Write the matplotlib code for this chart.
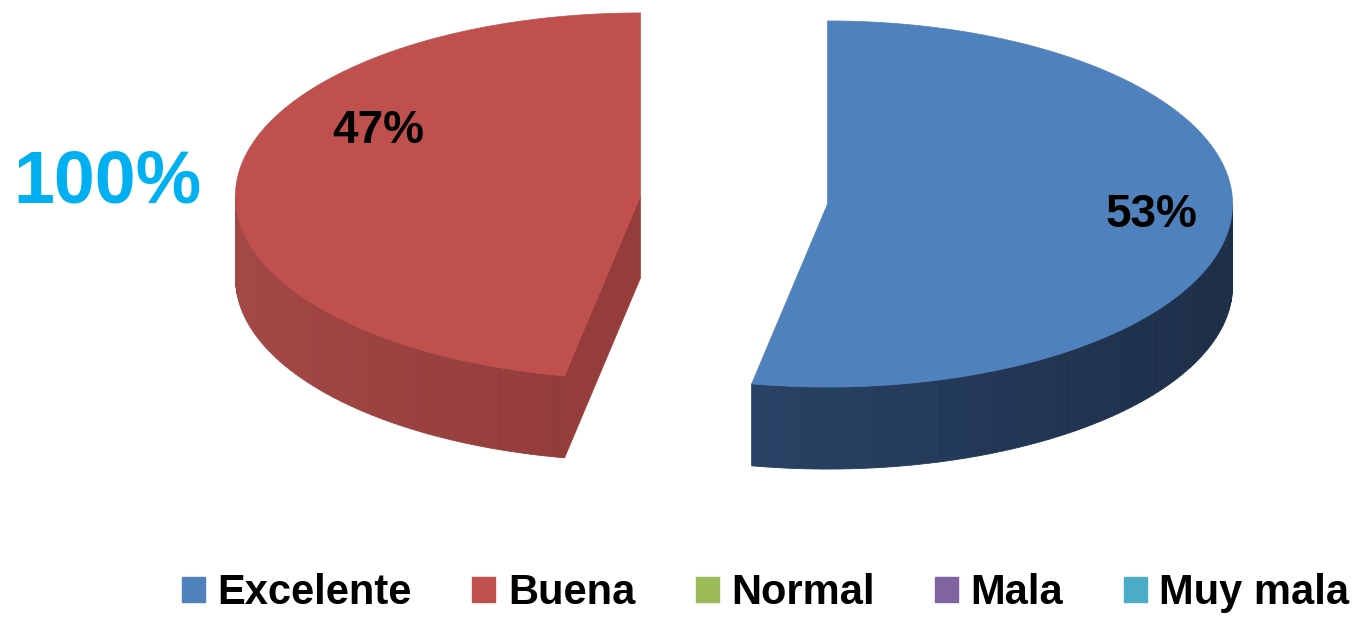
import numpy as np
import matplotlib.pyplot as plt
from matplotlib.patches import Polygon, Patch
from matplotlib.colors import to_rgb

# Data
categories = ["Excelente", "Buena", "Normal", "Mala", "Muy mala"]
values = [53, 47, 0, 0, 0]
colors = ["#4F81BD", "#C0504D", "#9BBB59", "#8064A2", "#4BACC6"]
# side shading (light end, dark end) for each colour
side_colors = {
    "#4F81BD": ("#30507A", "#1D2E47"),
    "#C0504D": ("#A34744", "#7B2D2C"),
}
radial_colors = {"#4F81BD": "#24395A", "#C0504D": "#953D3B"}
total_label = "100%"

# pie layout in pixel units
cx, cy = 734, 200
R = 405
k = 0.452
h = 82
explode = 0.232

fig = plt.figure(figsize=(13.6, 6.17), dpi=100)
ax = fig.add_axes([0, 0, 1, 1])
ax.set_xlim(0, 1360)
ax.set_ylim(617, 0)
ax.axis("off")


def pt(x0, y0, t, dz=0):
    r = np.radians(t)
    return x0 + R * np.sin(r), y0 - k * R * np.cos(r) + dz


total = sum(values)
angles = np.cumsum([0] + [v / total * 360 for v in values])
label_shift = [(22, -2), (40, -52)]

for i, v in enumerate(values):
    if v == 0:
        continue
    a1, a2 = angles[i], angles[i + 1]
    m = np.radians((a1 + a2) / 2)
    x0 = cx + explode * R * np.sin(m)
    y0 = cy - explode * k * R * np.cos(m)
    col = colors[i]

    # radial face at start angle (visible if it faces the viewer)
    if np.sin(np.radians(a1)) < 0 and np.cos(np.radians(a1)) < 0:
        ex, ey = pt(x0, y0, a1)
        ax.add_patch(Polygon([(x0, y0), (ex, ey), (ex, ey + h), (x0, y0 + h)],
                             closed=True, fc=radial_colors[col], ec=radial_colors[col], lw=0.5))

    # outer side (front half only), shaded in strips
    s1, s2 = max(a1, 90), min(a2, 270)
    if s2 > s1:
        light, dark = side_colors[col]
        c_l, c_d = np.array(to_rgb(light)), np.array(to_rgb(dark))
        n = 80
        ts = np.linspace(s1, s2, n + 1)
        for j in range(n):
            ta, tb = ts[j], ts[j + 1]
            xa, ya = pt(x0, y0, ta)
            xb, yb = pt(x0, y0, tb)
            # lighter on the left of the picture
            f = (np.sin(np.radians((ta + tb) / 2)) + 1) / 2
            c = c_l * (1 - f) + c_d * f
            ax.add_patch(Polygon([(xa, ya), (xb, yb), (xb, yb + h), (xa, ya + h)],
                                 closed=True, fc=c, ec=c, lw=0.6))

    # top face
    ts = np.linspace(a1, a2, 200)
    xs, ys = pt(x0, y0, ts)
    verts = [(x0, y0)] + list(zip(xs, ys))
    ax.add_patch(Polygon(verts, closed=True, fc=col, ec=col, lw=0.5))

    # percentage label
    lx = x0 + 0.75 * R * np.sin(m) + label_shift[i][0]
    ly = y0 - 0.75 * k * R * np.cos(m) + label_shift[i][1]
    ax.text(lx, ly, f"{round(v / total * 100)}%", fontsize=33, fontweight="bold",
            family="Liberation Sans", ha="center", va="center", color="black")

ax.text(107, 183, total_label, fontsize=53, fontweight="bold", family="Liberation Sans",
        color="#00B0F0", ha="center", va="center")

handles = [Patch(facecolor=c, edgecolor=c) for c in colors]
fig.legend(handles, categories, loc="lower center", bbox_to_anchor=(0.563, -0.054), ncol=5,
           frameon=False, prop={"family": "Liberation Sans", "weight": "bold", "size": 30},
           handlelength=0.55, handleheight=0.55, handletextpad=0.3, columnspacing=1.45)

fig.savefig("out.png", dpi=100)
